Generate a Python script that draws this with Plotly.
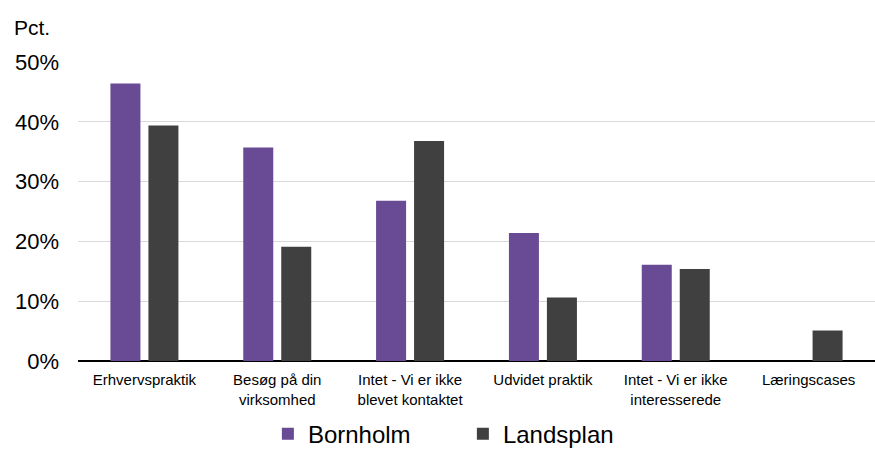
import plotly.graph_objects as go

categories = [
    "Erhvervspraktik",
    "Besøg på din<br>virksomhed",
    "Intet - Vi er ikke<br>blevet kontaktet",
    "Udvidet praktik",
    "Intet - Vi er ikke<br>interesserede",
    "Læringscases",
]
bornholm = [0.464, 0.357, 0.268, 0.214, 0.161, 0.0]
landsplan = [0.394, 0.191, 0.368, 0.106, 0.154, 0.051]
series_names = ["Bornholm", "Landsplan"]
colors = ["#694a94", "#404040"]
y_ticks = [0, 0.1, 0.2, 0.3, 0.4, 0.5]

FONT = "Liberation Sans, Arial, sans-serif"

fig = go.Figure()
for name, vals, col in zip(series_names, [bornholm, landsplan], colors):
    fig.add_trace(go.Bar(
        x=categories, y=vals, name=name,
        marker=dict(color=col, line=dict(width=0)),
    ))

fig.update_layout(
    width=875, height=450,
    margin=dict(l=78, r=0, t=62, b=89, autoexpand=False),
    paper_bgcolor="white", plot_bgcolor="white",
    barmode="group", bargap=0.428, bargroupgap=0.21,
    font=dict(family=FONT, color="black"),
    showlegend=True,
    legend=dict(
        orientation="h", x=0.529, xanchor="center", xref="container",
        y=-0.245, yanchor="middle", yref="paper",
        font=dict(size=24, family=FONT, color="black"),
        entrywidth=150, entrywidthmode="pixels",
        itemsizing="constant",
        bgcolor="rgba(0,0,0,0)",
    ),
    annotations=[dict(
        text="Pct.", xref="paper", yref="paper", x=-0.083, y=1.07,
        xanchor="left", yanchor="bottom", showarrow=False,
        font=dict(size=21, family=FONT, color="black"), xshift=0,
    )],
)
fig.update_xaxes(
    showgrid=False, showline=False, zeroline=False,
    tickfont=dict(size=15, family=FONT, color="black"),
    ticks="", fixedrange=True, ticklabelstandoff=8,
)
fig.update_yaxes(
    range=[0, 0.5], tickvals=y_ticks, tickformat=".0%",
    showgrid=True, gridcolor="#d9d9d9", gridwidth=1,
    zeroline=True, zerolinecolor="black", zerolinewidth=2,
    showline=False, ticks="",
    tickfont=dict(size=22, family=FONT, color="black"),
    ticklabelstandoff=18,
    fixedrange=True,
)

fig.write_html(
    "out.html",
    config={"displayModeBar": False},
    post_script="document.body.style.margin='0';document.body.style.overflow='hidden';",
)
